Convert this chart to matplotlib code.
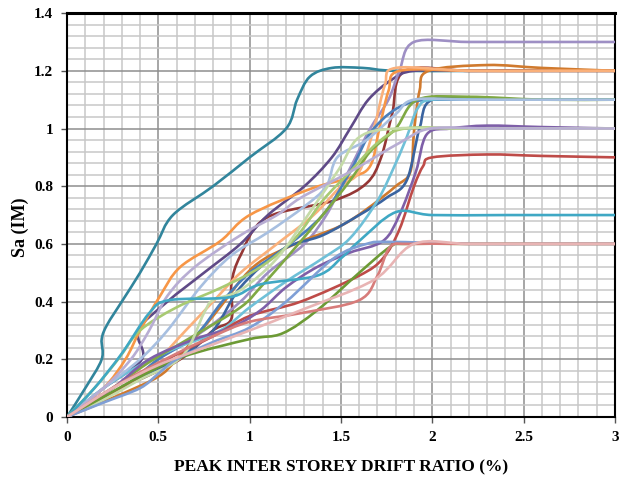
import numpy as np
import matplotlib
matplotlib.use('Agg')
import matplotlib.pyplot as plt
from matplotlib.path import Path
from matplotlib.patches import PathPatch
from matplotlib.ticker import MultipleLocator

# tick values and labels
x_ticks = [0, 0.5, 1, 1.5, 2, 2.5, 3]
x_labels = ['0', '0.5', '1', '1.5', '2', '2.5', '3']
y_ticks = [0, 0.2, 0.4, 0.6, 0.8, 1.0, 1.2, 1.4]
y_labels = ['0', '0.2', '0.4', '0.6', '0.8', '1', '1.2', '1.4']

# IDA curves: peak inter-storey drift (%) vs Sa, one record per list pair
teal_d = [0, 0.1, 0.19, 0.19, 0.22, 0.3, 0.4, 0.49, 0.58, 0.8, 1.0, 1.2, 1.26, 1.33, 1.45, 1.62, 1.8, 2.3, 3.0]
teal_sa = [0, 0.1, 0.2, 0.27, 0.32, 0.4, 0.5, 0.6, 0.7, 0.8, 0.9, 1.0, 1.1, 1.18, 1.21, 1.21, 1.2, 1.2, 1.2]

lav13_d = [0, 0.3, 0.5, 0.75, 0.95, 1.1, 1.3, 1.42, 1.5, 1.58, 1.66, 1.76, 1.82, 1.9, 2.2, 2.6, 3.0]
lav13_sa = [0, 0.1, 0.2, 0.3, 0.4, 0.5, 0.6, 0.7, 0.8, 0.9, 1.0, 1.1, 1.2, 1.3, 1.3, 1.3, 1.3]

dpur_d = [0, 0.2, 0.41, 0.39, 0.55, 0.75, 0.95, 1.1, 1.3, 1.45, 1.55, 1.65, 1.78, 1.9, 2.2, 2.6, 3.0]
dpur_sa = [0, 0.1, 0.2, 0.3, 0.4, 0.5, 0.6, 0.7, 0.8, 0.9, 1.0, 1.1, 1.17, 1.2, 1.2, 1.2, 1.2]

dred_d = [0, 0.3, 0.62, 0.8, 0.9, 0.9, 0.95, 1.09, 1.46, 1.64, 1.72, 1.78, 1.85, 2.2, 2.6, 3.0]
dred_sa = [0, 0.1, 0.2, 0.3, 0.34, 0.46, 0.56, 0.69, 0.75, 0.81, 0.9, 1.05, 1.2, 1.2, 1.2, 1.2]

dora_d = [0, 0.3, 0.5, 0.6, 0.8, 1.02, 1.25, 1.49, 1.64, 1.8, 1.88, 1.9, 1.93, 1.98, 2.3, 2.6, 3.0]
dora_sa = [0, 0.08, 0.14, 0.2, 0.35, 0.52, 0.6, 0.66, 0.72, 0.8, 0.85, 0.99, 1.13, 1.2, 1.22, 1.21, 1.2]

ora_d = [0, 0.2, 0.32, 0.4, 0.51, 0.62, 0.84, 1.0, 1.33, 1.55, 1.66, 1.71, 1.76, 1.82, 2.2, 2.6, 3.0]
ora_sa = [0, 0.1, 0.2, 0.3, 0.42, 0.52, 0.61, 0.7, 0.79, 0.83, 0.87, 1.0, 1.13, 1.2, 1.2, 1.2, 1.2]

lora_d = [0, 0.3, 0.5, 0.65, 0.8, 0.95, 1.15, 1.35, 1.5, 1.6, 1.68, 1.74, 1.8, 2.2, 2.6, 3.0]
lora_sa = [0, 0.1, 0.2, 0.3, 0.4, 0.5, 0.6, 0.7, 0.8, 0.85, 1.0, 1.15, 1.21, 1.2, 1.2, 1.2]

grn11_d = [0, 0.25, 0.45, 0.69, 0.95, 1.06, 1.2, 1.4, 1.55, 1.66, 1.8, 1.92, 2.2, 2.6, 3.0]
grn11_sa = [0, 0.1, 0.19, 0.28, 0.38, 0.45, 0.55, 0.7, 0.82, 0.92, 1.0, 1.1, 1.11, 1.1, 1.1]

dblu_d = [0, 0.3, 0.6, 0.8, 0.95, 1.18, 1.4, 1.6, 1.75, 1.86, 1.93, 2.0, 2.3, 2.6, 3.0]
dblu_sa = [0, 0.1, 0.2, 0.3, 0.45, 0.58, 0.63, 0.7, 0.76, 0.82, 1.0, 1.1, 1.1, 1.1, 1.1]

blu11_d = [0, 0.3, 0.5, 0.7, 0.85, 1.0, 1.18, 1.4, 1.55, 1.68, 1.88, 2.2, 2.6, 3.0]
blu11_sa = [0, 0.1, 0.2, 0.28, 0.4, 0.5, 0.58, 0.7, 0.85, 1.0, 1.09, 1.1, 1.1, 1.1]

laq_d = [0, 0.2, 0.4, 0.6, 0.84, 1.0, 1.2, 1.4, 1.55, 1.7, 1.8, 1.86, 1.92, 2.0, 2.3, 2.6, 3.0]
laq_sa = [0, 0.1, 0.18, 0.24, 0.3, 0.38, 0.47, 0.55, 0.62, 0.75, 0.88, 0.97, 1.07, 1.1, 1.1, 1.1, 1.1]

lblu_d = [0, 0.2, 0.4, 0.55, 0.73, 0.9, 1.1, 1.3, 1.42, 1.48, 1.64, 1.8, 1.9, 2.2, 2.6, 3.0]
lblu_sa = [0, 0.1, 0.2, 0.3, 0.45, 0.56, 0.64, 0.73, 0.8, 0.9, 0.96, 1.05, 1.1, 1.1, 1.1, 1.1]

pgrn_d = [0, 0.2, 0.4, 0.63, 0.75, 0.8, 0.95, 1.15, 1.33, 1.49, 1.6, 1.8, 2.2, 2.6, 3.0]
pgrn_sa = [0, 0.06, 0.13, 0.21, 0.36, 0.405, 0.44, 0.55, 0.71, 0.86, 0.97, 1.0, 1.0, 1.0, 1.0]

ygrn_d = [0, 0.15, 0.28, 0.4, 0.6, 0.85, 1.06, 1.25, 1.4, 1.55, 1.7, 1.85, 2.2, 2.6, 3.0]
ygrn_sa = [0, 0.1, 0.2, 0.3, 0.38, 0.45, 0.52, 0.62, 0.75, 0.85, 0.95, 1.0, 1.0, 1.0, 1.0]

pur10_d = [0, 0.25, 0.45, 0.7, 0.9, 1.06, 1.2, 1.37, 1.55, 1.73, 1.82, 1.91, 1.97, 2.1, 2.3, 2.6, 3.0]
pur10_sa = [0, 0.1, 0.2, 0.27, 0.31, 0.37, 0.45, 0.52, 0.57, 0.61, 0.7, 0.85, 0.98, 1.0, 1.01, 1.005, 1.0]

lav10_d = [0, 0.2, 0.35, 0.45, 0.55, 0.7, 0.95, 1.15, 1.28, 1.55, 1.82, 1.99, 2.3, 2.6, 3.0]
lav10_sa = [0, 0.1, 0.2, 0.3, 0.42, 0.52, 0.63, 0.7, 0.76, 0.85, 0.95, 1.0, 1.0, 1.0, 1.0]

red09_d = [0, 0.3, 0.55, 0.8, 1.0, 1.28, 1.6, 1.73, 1.82, 1.9, 1.95, 2.0, 2.3, 2.6, 3.0]
red09_sa = [0, 0.1, 0.2, 0.28, 0.35, 0.4, 0.49, 0.55, 0.65, 0.8, 0.87, 0.9, 0.91, 0.905, 0.9]

aq07_d = [0, 0.15, 0.3, 0.45, 0.56, 0.89, 1.06, 1.37, 1.5, 1.6, 1.8, 2.0, 2.4, 3.0]
aq07_sa = [0, 0.1, 0.22, 0.36, 0.405, 0.415, 0.46, 0.49, 0.55, 0.61, 0.71, 0.7, 0.7, 0.7]

dgrn_d = [0, 0.2, 0.4, 0.64, 1.0, 1.18, 1.37, 1.6, 1.77, 1.85, 2.2, 2.6, 3.0]
dgrn_sa = [0, 0.07, 0.14, 0.21, 0.27, 0.29, 0.37, 0.5, 0.59, 0.6, 0.6, 0.6, 0.6]

blu06_d = [0, 0.2, 0.4, 0.5, 0.6, 0.8, 1.0, 1.2, 1.46, 1.64, 1.77, 2.2, 2.6, 3.0]
blu06_sa = [0, 0.05, 0.1, 0.15, 0.2, 0.26, 0.31, 0.4, 0.55, 0.6, 0.607, 0.6, 0.6, 0.6]

sal06_d = [0, 0.3, 0.6, 0.8, 1.0, 1.28, 1.6, 1.7, 1.77, 1.88, 2.2, 2.6, 3.0]
sal06_sa = [0, 0.12, 0.22, 0.28, 0.33, 0.36, 0.405, 0.49, 0.59, 0.6, 0.6, 0.6, 0.6]

pnk06_d = [0, 0.25, 0.5, 0.75, 1.0, 1.28, 1.68, 1.9, 2.2, 2.6, 3.0]
pnk06_sa = [0, 0.1, 0.18, 0.24, 0.3, 0.37, 0.475, 0.6, 0.6, 0.6, 0.6]

# drawing order: later series sit on top
series = [
    (teal_d, teal_sa, '#31859C'),
    (dred_d, dred_sa, '#953735'),
    (dpur_d, dpur_sa, '#5F4A87'),
    (lav13_d, lav13_sa, '#9E8FC4'),
    (dora_d, dora_sa, '#D07A2E'),
    (ora_d, ora_sa, '#F79646'),
    (lora_d, lora_sa, '#FAB07A'),
    (dblu_d, dblu_sa, '#3A64A0'),
    (blu11_d, blu11_sa, '#4A7EBB'),
    (laq_d, laq_sa, '#6FC0D8'),
    (grn11_d, grn11_sa, '#7FA843'),
    (lblu_d, lblu_sa, '#A7BFE0'),
    (red09_d, red09_sa, '#BE4B48'),
    (pur10_d, pur10_sa, '#7E5FA8'),
    (ygrn_d, ygrn_sa, '#A8CA72'),
    (pgrn_d, pgrn_sa, '#C5DBA8'),
    (lav10_d, lav10_sa, '#B8ADD3'),
    (aq07_d, aq07_sa, '#3FA8C4'),
    (dgrn_d, dgrn_sa, '#6C9A35'),
    (blu06_d, blu06_sa, '#7F9FD6'),
    (sal06_d, sal06_sa, '#D77C7A'),
    (pnk06_d, pnk06_sa, '#E8B4B4'),
]


def smooth_path(x, y):
    # spreadsheet-style smoothed line: Catmull-Rom segments as cubic Beziers
    p = np.column_stack([x, y]).astype(float)
    ext = np.vstack([p[0], p, p[-1]])
    verts = [p[0]]
    codes = [Path.MOVETO]
    for i in range(1, len(ext) - 2):
        p0, p1, p2, p3 = ext[i - 1], ext[i], ext[i + 1], ext[i + 2]
        verts += [p1 + (p2 - p0) / 6, p2 - (p3 - p1) / 6, p2]
        codes += [Path.CURVE4] * 3
    return Path(verts, codes)


fig = plt.figure(figsize=(6.32, 4.86), dpi=100)
ax = fig.add_axes([0.106, 0.142, 0.867, 0.831])

for d, sa, col in series:
    ax.add_patch(PathPatch(smooth_path(d, sa), fill=False, edgecolor=col,
                           lw=1.9, capstyle='round', joinstyle='round', zorder=3))

ax.set_xlim(0, 3)
ax.set_ylim(0, 1.4)
ax.set_xticks(x_ticks, labels=x_labels)
ax.set_yticks(y_ticks, labels=y_labels)
ax.xaxis.set_minor_locator(MultipleLocator(0.1))
ax.yaxis.set_minor_locator(MultipleLocator(0.04))
ax.grid(which='minor', color='#C8C8C8', lw=1.1, zorder=1)
ax.grid(which='major', color='#8E8E8E', lw=1.1, zorder=2)
ax.set_axisbelow(True)

ax.tick_params(which='minor', length=0)
ax.tick_params(which='major', length=4, width=1, color='#555555', pad=6)
for lab in ax.get_xticklabels() + ax.get_yticklabels():
    lab.set_fontfamily('Liberation Serif')
    lab.set_fontweight('bold')
    lab.set_fontsize(11)

for side in ['left', 'bottom', 'right']:
    ax.spines[side].set_color('black')
    ax.spines[side].set_linewidth(1.5)
ax.spines['top'].set_color('black')
ax.spines['top'].set_linewidth(2.2)

ax.set_xlabel('PEAK INTER STOREY DRIFT RATIO (%)', fontfamily='Liberation Serif',
              fontweight='bold', fontsize=12.5)
ax.xaxis.set_label_coords(0.5, -0.105)
ax.set_ylabel('Sa (IM)', fontfamily='Liberation Serif', fontweight='bold',
              fontsize=13)
ax.yaxis.set_label_coords(-0.07, 0.47)

fig.savefig('out.png', dpi=100)
